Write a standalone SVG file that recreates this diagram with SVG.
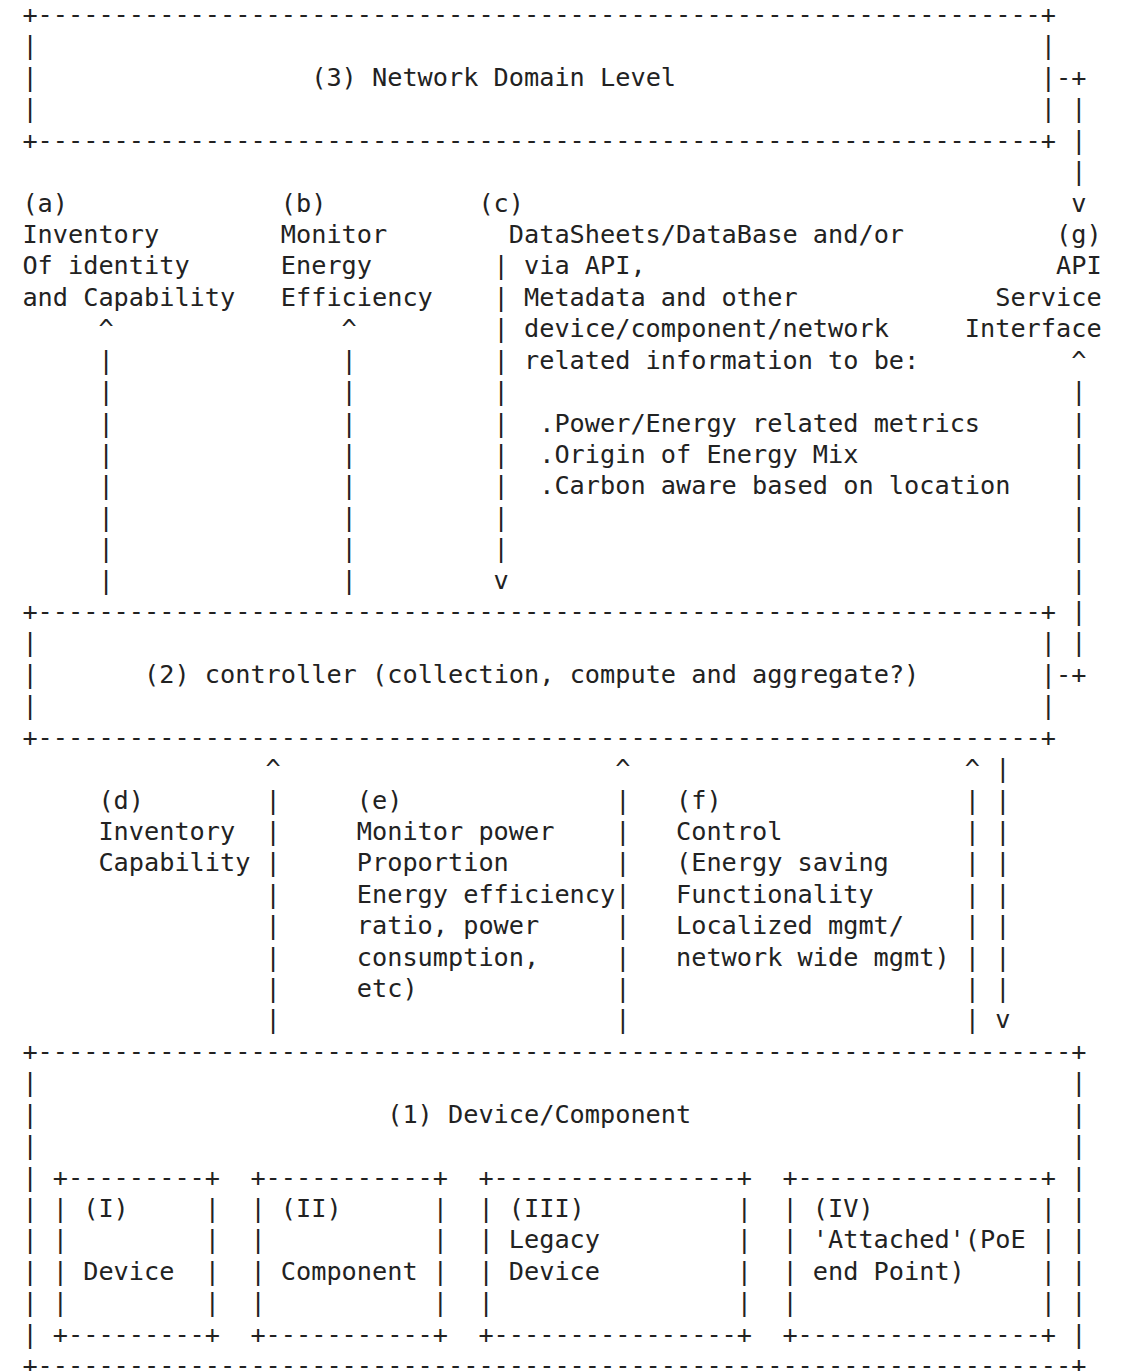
<svg xmlns="http://www.w3.org/2000/svg" width="1122" height="1371" viewBox="0 0 1122 1371">
<style>
.t { font-family: "DejaVu Sans Mono", "Liberation Mono", monospace; font-size: 25.25px; fill: #222; }
</style>
<rect width="1122" height="1371" fill="#ffffff"/>

<g id="node-network-domain">
  <text class="t" x="22.4" y="23" textLength="1033.6" lengthAdjust="spacing">+------------------------------------------------------------------+</text>
  <text class="t" x="22.4"><tspan x="22.4" y="54.4">|</tspan><tspan x="22.4" y="85.8">|</tspan><tspan x="22.4" y="117.3">|</tspan></text>
  <text class="t" x="1040.8"><tspan x="1040.8" y="54.4">|</tspan><tspan x="1040.8" y="85.8">|</tspan><tspan x="1040.8" y="117.3">|</tspan></text>
  <text class="t" x="311.2" y="85.8">(3) Network Domain Level</text>
  <text class="t" x="22.4" y="148.7" textLength="1033.6" lengthAdjust="spacing">+------------------------------------------------------------------+</text>
</g>

<g id="node-a">
  <text class="t" x="22.4" y="211.5">(a)</text>
  <text class="t" x="22.4" y="242.9">Inventory</text>
  <text class="t" x="22.4" y="274.4">Of identity</text>
  <text class="t" x="22.4" y="305.8">and Capability</text>
</g>
<g id="node-b">
  <text class="t" x="280.8" y="211.5">(b)</text>
  <text class="t" x="280.8" y="242.9">Monitor</text>
  <text class="t" x="280.8" y="274.4">Energy</text>
  <text class="t" x="280.8" y="305.8">Efficiency</text>
</g>
<g id="node-c">
  <text class="t" x="478.4" y="211.5">(c)</text>
  <text class="t" x="508.8" y="242.9">DataSheets/DataBase and/or</text>
  <text class="t" x="524.0" y="274.4">via API,</text>
  <text class="t" x="524.0" y="305.8">Metadata and other</text>
  <text class="t" x="524.0" y="337.2">device/component/network</text>
  <text class="t" x="524.0" y="368.6">related information to be:</text>
  <text class="t" x="539.2" y="431.5">.Power/Energy related metrics</text>
  <text class="t" x="539.2" y="462.9">.Origin of Energy Mix</text>
  <text class="t" x="539.2" y="494.3">.Carbon aware based on location</text>
</g>
<g id="node-g">
  <text class="t" x="1056.0" y="242.9">(g)</text>
  <text class="t" x="1056.0" y="274.4">API</text>
  <text class="t" x="995.2" y="305.8">Service</text>
  <text class="t" x="964.8" y="337.2">Interface</text>
</g>

<g id="node-controller">
  <text class="t" x="22.4" y="620.0" textLength="1033.6" lengthAdjust="spacing">+------------------------------------------------------------------+</text>
  <text class="t" x="22.4"><tspan x="22.4" y="651.4">|</tspan><tspan x="22.4" y="682.8">|</tspan><tspan x="22.4" y="714.2">|</tspan></text>
  <text class="t" x="1040.8"><tspan x="1040.8" y="651.4">|</tspan><tspan x="1040.8" y="682.8">|</tspan><tspan x="1040.8" y="714.2">|</tspan></text>
  <text class="t" x="144.0" y="682.8">(2) controller (collection, compute and aggregate?)</text>
  <text class="t" x="22.4" y="745.7" textLength="1033.6" lengthAdjust="spacing">+------------------------------------------------------------------+</text>
</g>

<g id="node-d">
  <text class="t" x="98.4" y="808.5">(d)</text>
  <text class="t" x="98.4" y="839.9">Inventory</text>
  <text class="t" x="98.4" y="871.3">Capability</text>
</g>
<g id="node-e">
  <text class="t" x="356.8" y="808.5">(e)</text>
  <text class="t" x="356.8" y="839.9">Monitor power</text>
  <text class="t" x="356.8" y="871.3">Proportion</text>
  <text class="t" x="356.8" y="902.8">Energy efficiency</text>
  <text class="t" x="356.8" y="934.2">ratio, power</text>
  <text class="t" x="356.8" y="965.6">consumption,</text>
  <text class="t" x="356.8" y="997.0">etc)</text>
</g>
<g id="node-f">
  <text class="t" x="676.0" y="808.5">(f)</text>
  <text class="t" x="676.0" y="839.9">Control</text>
  <text class="t" x="676.0" y="871.3">(Energy saving</text>
  <text class="t" x="676.0" y="902.8">Functionality</text>
  <text class="t" x="676.0" y="934.2">Localized mgmt/</text>
  <text class="t" x="676.0" y="965.6">network wide mgmt)</text>
</g>

<g id="node-device-component">
  <text class="t" x="22.4" y="1059.9" textLength="1064" lengthAdjust="spacing">+--------------------------------------------------------------------+</text>
  <text class="t" x="22.4"><tspan x="22.4" y="1091.3">|</tspan><tspan x="22.4" y="1122.7">|</tspan><tspan x="22.4" y="1154.1">|</tspan><tspan x="22.4" y="1185.5">|</tspan><tspan x="22.4" y="1217.0">|</tspan><tspan x="22.4" y="1248.4">|</tspan><tspan x="22.4" y="1279.8">|</tspan><tspan x="22.4" y="1311.2">|</tspan><tspan x="22.4" y="1342.6">|</tspan></text>
  <text class="t" x="1071.2"><tspan x="1071.2" y="1091.3">|</tspan><tspan x="1071.2" y="1122.7">|</tspan><tspan x="1071.2" y="1154.1">|</tspan><tspan x="1071.2" y="1185.5">|</tspan><tspan x="1071.2" y="1217.0">|</tspan><tspan x="1071.2" y="1248.4">|</tspan><tspan x="1071.2" y="1279.8">|</tspan><tspan x="1071.2" y="1311.2">|</tspan><tspan x="1071.2" y="1342.6">|</tspan></text>
  <text class="t" x="387.2" y="1122.7">(1) Device/Component</text>
  <text class="t" x="22.4" y="1374.1" textLength="1064" lengthAdjust="spacing">+--------------------------------------------------------------------+</text>

  <g id="node-device-I">
    <text class="t" x="52.8" y="1185.5" textLength="167.2" lengthAdjust="spacing">+---------+</text>
    <text class="t" x="52.8"><tspan x="52.8" y="1217.0">|</tspan><tspan x="52.8" y="1248.4">|</tspan><tspan x="52.8" y="1279.8">|</tspan><tspan x="52.8" y="1311.2">|</tspan></text>
    <text class="t" x="204.8"><tspan x="204.8" y="1217.0">|</tspan><tspan x="204.8" y="1248.4">|</tspan><tspan x="204.8" y="1279.8">|</tspan><tspan x="204.8" y="1311.2">|</tspan></text>
    <text class="t" x="83.2" y="1217.0">(I)</text>
    <text class="t" x="83.2" y="1279.8">Device</text>
    <text class="t" x="52.8" y="1342.6" textLength="167.2" lengthAdjust="spacing">+---------+</text>
  </g>
  <g id="node-component-II">
    <text class="t" x="250.4" y="1185.5" textLength="197.6" lengthAdjust="spacing">+-----------+</text>
    <text class="t" x="250.4"><tspan x="250.4" y="1217.0">|</tspan><tspan x="250.4" y="1248.4">|</tspan><tspan x="250.4" y="1279.8">|</tspan><tspan x="250.4" y="1311.2">|</tspan></text>
    <text class="t" x="432.8"><tspan x="432.8" y="1217.0">|</tspan><tspan x="432.8" y="1248.4">|</tspan><tspan x="432.8" y="1279.8">|</tspan><tspan x="432.8" y="1311.2">|</tspan></text>
    <text class="t" x="280.8" y="1217.0">(II)</text>
    <text class="t" x="280.8" y="1279.8">Component</text>
    <text class="t" x="250.4" y="1342.6" textLength="197.6" lengthAdjust="spacing">+-----------+</text>
  </g>
  <g id="node-legacy-III">
    <text class="t" x="478.4" y="1185.5" textLength="273.6" lengthAdjust="spacing">+----------------+</text>
    <text class="t" x="478.4"><tspan x="478.4" y="1217.0">|</tspan><tspan x="478.4" y="1248.4">|</tspan><tspan x="478.4" y="1279.8">|</tspan><tspan x="478.4" y="1311.2">|</tspan></text>
    <text class="t" x="736.8"><tspan x="736.8" y="1217.0">|</tspan><tspan x="736.8" y="1248.4">|</tspan><tspan x="736.8" y="1279.8">|</tspan><tspan x="736.8" y="1311.2">|</tspan></text>
    <text class="t" x="508.8" y="1217.0">(III)</text>
    <text class="t" x="508.8" y="1248.4">Legacy</text>
    <text class="t" x="508.8" y="1279.8">Device</text>
    <text class="t" x="478.4" y="1342.6" textLength="273.6" lengthAdjust="spacing">+----------------+</text>
  </g>
  <g id="node-attached-IV">
    <text class="t" x="782.4" y="1185.5" textLength="273.6" lengthAdjust="spacing">+----------------+</text>
    <text class="t" x="782.4"><tspan x="782.4" y="1217.0">|</tspan><tspan x="782.4" y="1248.4">|</tspan><tspan x="782.4" y="1279.8">|</tspan><tspan x="782.4" y="1311.2">|</tspan></text>
    <text class="t" x="1040.8"><tspan x="1040.8" y="1217.0">|</tspan><tspan x="1040.8" y="1248.4">|</tspan><tspan x="1040.8" y="1279.8">|</tspan><tspan x="1040.8" y="1311.2">|</tspan></text>
    <text class="t" x="812.8" y="1217.0">(IV)</text>
    <text class="t" x="812.8" y="1248.4">'Attached'(PoE</text>
    <text class="t" x="812.8" y="1279.8">end Point)</text>
    <text class="t" x="782.4" y="1342.6" textLength="273.6" lengthAdjust="spacing">+----------------+</text>
  </g>
</g>

<g id="connectors">
  <!-- (g) link: Network Domain to API Service Interface -->
  <text class="t" x="1056.0" y="85.8">-+</text>
  <text class="t" x="1071.2"><tspan x="1071.2" y="117.3">|</tspan><tspan x="1071.2" y="148.7">|</tspan><tspan x="1071.2" y="180.1">|</tspan><tspan x="1071.2" y="211.5">v</tspan></text>
  <!-- (g) link: controller to API Service Interface -->
  <text class="t" x="1071.2"><tspan x="1071.2" y="368.6">^</tspan><tspan x="1071.2" y="400.0">|</tspan><tspan x="1071.2" y="431.5">|</tspan><tspan x="1071.2" y="462.9">|</tspan><tspan x="1071.2" y="494.3">|</tspan><tspan x="1071.2" y="525.7">|</tspan><tspan x="1071.2" y="557.1">|</tspan><tspan x="1071.2" y="588.6">|</tspan><tspan x="1071.2" y="620.0">|</tspan><tspan x="1071.2" y="651.4">|</tspan></text>
  <text class="t" x="1056.0" y="682.8">-+</text>
  <!-- (a) -->
  <text class="t" x="98.4"><tspan x="98.4" y="337.2">^</tspan><tspan x="98.4" y="368.6">|</tspan><tspan x="98.4" y="400.0">|</tspan><tspan x="98.4" y="431.5">|</tspan><tspan x="98.4" y="462.9">|</tspan><tspan x="98.4" y="494.3">|</tspan><tspan x="98.4" y="525.7">|</tspan><tspan x="98.4" y="557.1">|</tspan><tspan x="98.4" y="588.6">|</tspan></text>
  <!-- (b) -->
  <text class="t" x="341.6"><tspan x="341.6" y="337.2">^</tspan><tspan x="341.6" y="368.6">|</tspan><tspan x="341.6" y="400.0">|</tspan><tspan x="341.6" y="431.5">|</tspan><tspan x="341.6" y="462.9">|</tspan><tspan x="341.6" y="494.3">|</tspan><tspan x="341.6" y="525.7">|</tspan><tspan x="341.6" y="557.1">|</tspan><tspan x="341.6" y="588.6">|</tspan></text>
  <!-- (c) -->
  <text class="t" x="493.6"><tspan x="493.6" y="274.4">|</tspan><tspan x="493.6" y="305.8">|</tspan><tspan x="493.6" y="337.2">|</tspan><tspan x="493.6" y="368.6">|</tspan><tspan x="493.6" y="400.0">|</tspan><tspan x="493.6" y="431.5">|</tspan><tspan x="493.6" y="462.9">|</tspan><tspan x="493.6" y="494.3">|</tspan><tspan x="493.6" y="525.7">|</tspan><tspan x="493.6" y="557.1">|</tspan><tspan x="493.6" y="588.6">v</tspan></text>
  <!-- (d) -->
  <text class="t" x="265.6"><tspan x="265.6" y="777.1">^</tspan><tspan x="265.6" y="808.5">|</tspan><tspan x="265.6" y="839.9">|</tspan><tspan x="265.6" y="871.3">|</tspan><tspan x="265.6" y="902.8">|</tspan><tspan x="265.6" y="934.2">|</tspan><tspan x="265.6" y="965.6">|</tspan><tspan x="265.6" y="997.0">|</tspan><tspan x="265.6" y="1028.4">|</tspan></text>
  <!-- (e) -->
  <text class="t" x="615.2"><tspan x="615.2" y="777.1">^</tspan><tspan x="615.2" y="808.5">|</tspan><tspan x="615.2" y="839.9">|</tspan><tspan x="615.2" y="871.3">|</tspan><tspan x="615.2" y="902.8">|</tspan><tspan x="615.2" y="934.2">|</tspan><tspan x="615.2" y="965.6">|</tspan><tspan x="615.2" y="997.0">|</tspan><tspan x="615.2" y="1028.4">|</tspan></text>
  <!-- (f) up -->
  <text class="t" x="964.8"><tspan x="964.8" y="777.1">^</tspan><tspan x="964.8" y="808.5">|</tspan><tspan x="964.8" y="839.9">|</tspan><tspan x="964.8" y="871.3">|</tspan><tspan x="964.8" y="902.8">|</tspan><tspan x="964.8" y="934.2">|</tspan><tspan x="964.8" y="965.6">|</tspan><tspan x="964.8" y="997.0">|</tspan><tspan x="964.8" y="1028.4">|</tspan></text>
  <!-- (f) down -->
  <text class="t" x="995.2"><tspan x="995.2" y="777.1">|</tspan><tspan x="995.2" y="808.5">|</tspan><tspan x="995.2" y="839.9">|</tspan><tspan x="995.2" y="871.3">|</tspan><tspan x="995.2" y="902.8">|</tspan><tspan x="995.2" y="934.2">|</tspan><tspan x="995.2" y="965.6">|</tspan><tspan x="995.2" y="997.0">|</tspan><tspan x="995.2" y="1028.4">v</tspan></text>
</g>
</svg>
